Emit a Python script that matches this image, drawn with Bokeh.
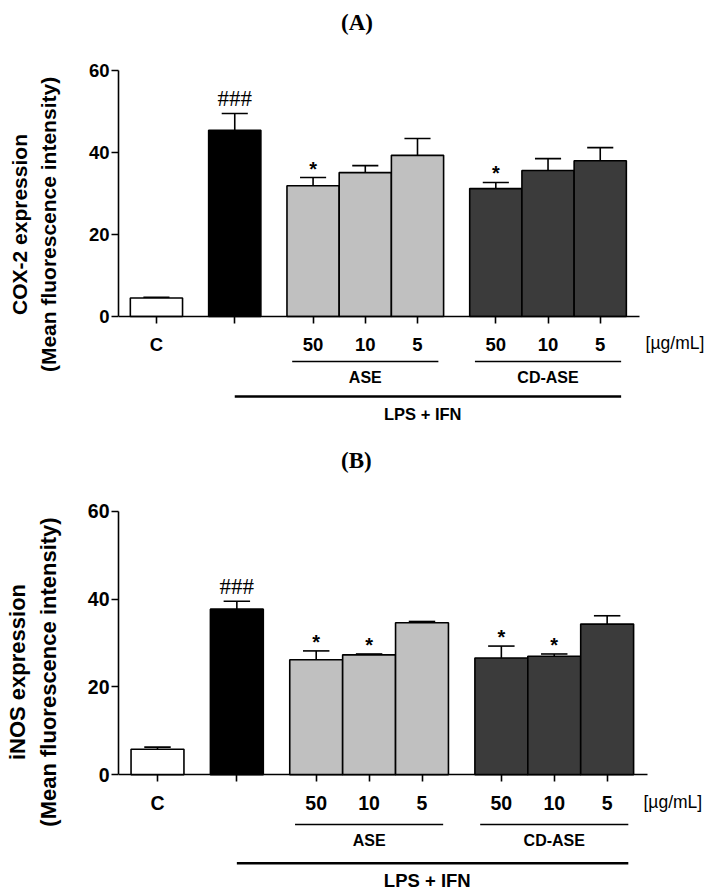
from bokeh.plotting import figure
from bokeh.models import LinearAxis, FixedTicker, Range1d, ColumnDataSource
from bokeh.layouts import column
from bokeh.embed import file_html
from bokeh.resources import INLINE
from bokeh.core.properties import value

# ---------------- data ----------------
groups = ["C", "LPS + IFN", "ASE 50", "ASE 10", "ASE 5", "CD-ASE 50", "CD-ASE 10", "CD-ASE 5"]
tick_labels = ["C", "", "50", "10", "5", "50", "10", "5"]
bar_colors = ["#ffffff", "#000000", "#c0c0c0", "#c0c0c0", "#c0c0c0", "#3b3b3b", "#3b3b3b", "#3b3b3b"]

cox2_mean = [4.5, 45.4, 31.9, 35.1, 39.3, 31.2, 35.6, 38.0]
cox2_sem = [0.2, 4.1, 2.0, 1.7, 4.1, 1.5, 2.9, 3.2]
cox2_marks = ["", "###", "*", "", "", "*", "", ""]

inos_mean = [5.8, 37.7, 26.2, 27.3, 34.6, 26.6, 27.0, 34.3]
inos_sem = [0.5, 1.8, 2.0, 0.2, 0.3, 2.7, 0.5, 1.9]
inos_marks = ["", "###", "*", "*", "", "*", "*", ""]

y_ticks = [0, 20, 40, 60]
unit_label = "[\u00b5g/mL]"
subgroups = [("ASE", 2, 4), ("CD-ASE", 5, 7)]   # name, first index, last index
treat_label = "LPS + IFN"

# ---------------- layout (pixel geometry) ----------------
slot = [0, 1.5, 3, 4, 5, 6.5, 7.5, 8.5]
FIG_W = 713
SANS = "Liberation Sans"
SERIF = "Liberation Serif"


def panel(title, ylabel, mean, sem, marks, geo):
    ux = geo["ux"]
    left = geo["left"]
    x_start = -(geo["c"] - geo["left"]) / ux
    x_end = x_start + (FIG_W - left) / ux
    ppy = (geo["y0"] - geo["y60"]) / 60.0
    y_top = 60 + (geo["y60"] - geo["top"]) / ppy
    y_bot = -(geo["top"] + geo["h"] - geo["y0"]) / ppy

    p = figure(width=FIG_W, height=geo["h"], output_backend="svg", toolbar_location=None,
               x_range=Range1d(x_start, x_end), y_range=Range1d(y_bot, y_top),
               x_axis_location=None, y_axis_location=None,
               min_border_left=left, min_border_right=0, min_border_top=0, min_border_bottom=0)
    p.outline_line_color = None
    p.xgrid.visible = False
    p.ygrid.visible = False
    p.background_fill_color = "white"

    yaxis = LinearAxis(ticker=FixedTicker(ticks=y_ticks), bounds=(0, 60))
    yaxis.axis_label = ylabel
    yaxis.axis_label_text_font = SANS
    yaxis.axis_label_text_font_style = "bold"
    yaxis.axis_label_text_font_size = geo["ylab_fs"]
    yaxis.axis_label_text_color = "black"
    yaxis.axis_label_text_line_height = 1.25
    yaxis.axis_label_standoff = geo["ylab_so"]
    yaxis.major_label_text_font = SANS
    yaxis.major_label_text_font_style = "bold"
    yaxis.major_label_text_font_size = geo["tick_fs"]
    yaxis.major_label_text_color = "black"
    yaxis.major_label_standoff = 2
    yaxis.major_tick_in = 0
    yaxis.major_tick_out = 7
    yaxis.minor_tick_line_color = None
    yaxis.axis_line_width = 1.6
    yaxis.major_tick_line_width = 1.6
    p.add_layout(yaxis, "left")

    ax_end = (geo["xend"] - geo["c"]) / ux
    xaxis = LinearAxis(ticker=FixedTicker(ticks=slot), bounds=(x_start, ax_end), fixed_location=0,
                       major_label_overrides={float(s): t for s, t in zip(slot, tick_labels)})
    xaxis.major_label_text_font = SANS
    xaxis.major_label_text_font_style = "bold"
    xaxis.major_label_text_font_size = geo["tick_fs"]
    xaxis.major_label_text_color = "black"
    xaxis.major_label_standoff = 10
    xaxis.major_tick_in = 0
    xaxis.major_tick_out = 7
    xaxis.minor_tick_line_color = None
    xaxis.axis_line_width = 1.6
    xaxis.major_tick_line_width = 1.6
    p.add_layout(xaxis, "below")

    tops = [m + s for m, s in zip(mean, sem)]
    src = ColumnDataSource(dict(x=slot, mean=mean, top=tops, color=bar_colors,
                                cl=[x - 0.25 for x in slot], cr=[x + 0.25 for x in slot]))
    p.segment(x0="x", y0="mean", x1="x", y1="top", line_color="black", line_width=1.6, source=src)
    p.segment(x0="cl", y0="top", x1="cr", y1="top", line_color="black", line_width=1.6, source=src)
    p.vbar(x="x", top="mean", bottom=0, width=1.0, fill_color="color", line_color="black",
           line_width=1.6, source=src)

    hx = [slot[i] for i, m in enumerate(marks) if m == "###"]
    hy = [tops[i] for i, m in enumerate(marks) if m == "###"]
    sx = [slot[i] for i, m in enumerate(marks) if m == "*"]
    sy = [tops[i] for i, m in enumerate(marks) if m == "*"]
    p.text(x=hx, y=hy, text=["###"] * len(hx), text_font=value(SERIF), text_font_size="23px",
           text_align="center", text_baseline="middle", y_offset=-15, text_color="black")
    p.text(x=sx, y=sy, text=["*"] * len(sx), text_font=value(SANS), text_font_size="20px",
           text_font_style="bold", text_align="center", text_baseline="middle", y_offset=-9,
           text_color="black")

    # panel title
    p.text(x=[geo["tx"]], y=[geo["ty"]], text=[title], text_font=value(SERIF), text_font_style="bold",
           text_font_size="23px", text_align="center", text_baseline="middle", text_color="black")

    # unit label
    p.text(x=[(geo["ux_lab"] - geo["c"]) / ux], y=[-(geo["lab_y"] - geo["y0"]) / ppy], text=[unit_label],
           text_font=value(SANS), text_font_size="17.5px", text_align="left", text_baseline="middle",
           text_color="black")

    # subgroup underlines and names
    sub_y = -(geo["sub_line"] - geo["y0"]) / ppy
    sub_ty = -(geo["sub_text"] - geo["y0"]) / ppy
    for name, i0, i1 in subgroups:
        p.segment(x0=[slot[i0] - 0.4], y0=[sub_y], x1=[slot[i1] + 0.4], y1=[sub_y],
                  line_color="black", line_width=1.6)
        p.text(x=[(slot[i0] + slot[i1]) / 2], y=[sub_ty], text=[name], text_font=value(SANS),
               text_font_style="bold", text_font_size="16px", text_align="center",
               text_baseline="middle", text_color="black")

    # treatment line
    tl_y = -(geo["tr_line"] - geo["y0"]) / ppy
    p.segment(x0=[slot[1]], y0=[tl_y], x1=[8.9], y1=[tl_y], line_color="black", line_width=2.6)
    p.text(x=[5.1], y=[-(geo["tr_text"] - geo["y0"]) / ppy], text=[treat_label],
           text_font=value(SANS), text_font_style="bold", text_font_size=geo["tr_fs"],
           text_align="center", text_baseline="middle", text_color="black")
    return p


geoA = dict(ux=52.3, c=155, left=117, y0=316, y60=70, top=0, h=448, xend=639,
            ylab_fs="21px", ylab_so=26, tick_fs="18.5px", tx=3.84, ty=71.7,
            ux_lab=645, lab_y=342, sub_line=361, sub_text=377, tr_line=396, tr_text=413, tr_fs="16.5px")
geoB = dict(ux=52.9, c=157, left=118, y0=774.3, y60=510.7, top=448, h=447, xend=647,
            ylab_fs="22px", ylab_so=24, tick_fs="19.5px", tx=3.76, ty=71.5,
            ux_lab=643, lab_y=801, sub_line=824, sub_text=840, tr_line=862.7, tr_text=880, tr_fs="18.5px")

pA = panel("(A)", "COX-2 expression\n(Mean fluorescence intensity)", cox2_mean, cox2_sem, cox2_marks, geoA)
pB = panel("(B)", "iNOS expression\n(Mean fluorescence intensity)", inos_mean, inos_sem, inos_marks, geoB)

layout = column(pA, pB, spacing=0)
open("out.html", "w").write(file_html(layout, INLINE))
